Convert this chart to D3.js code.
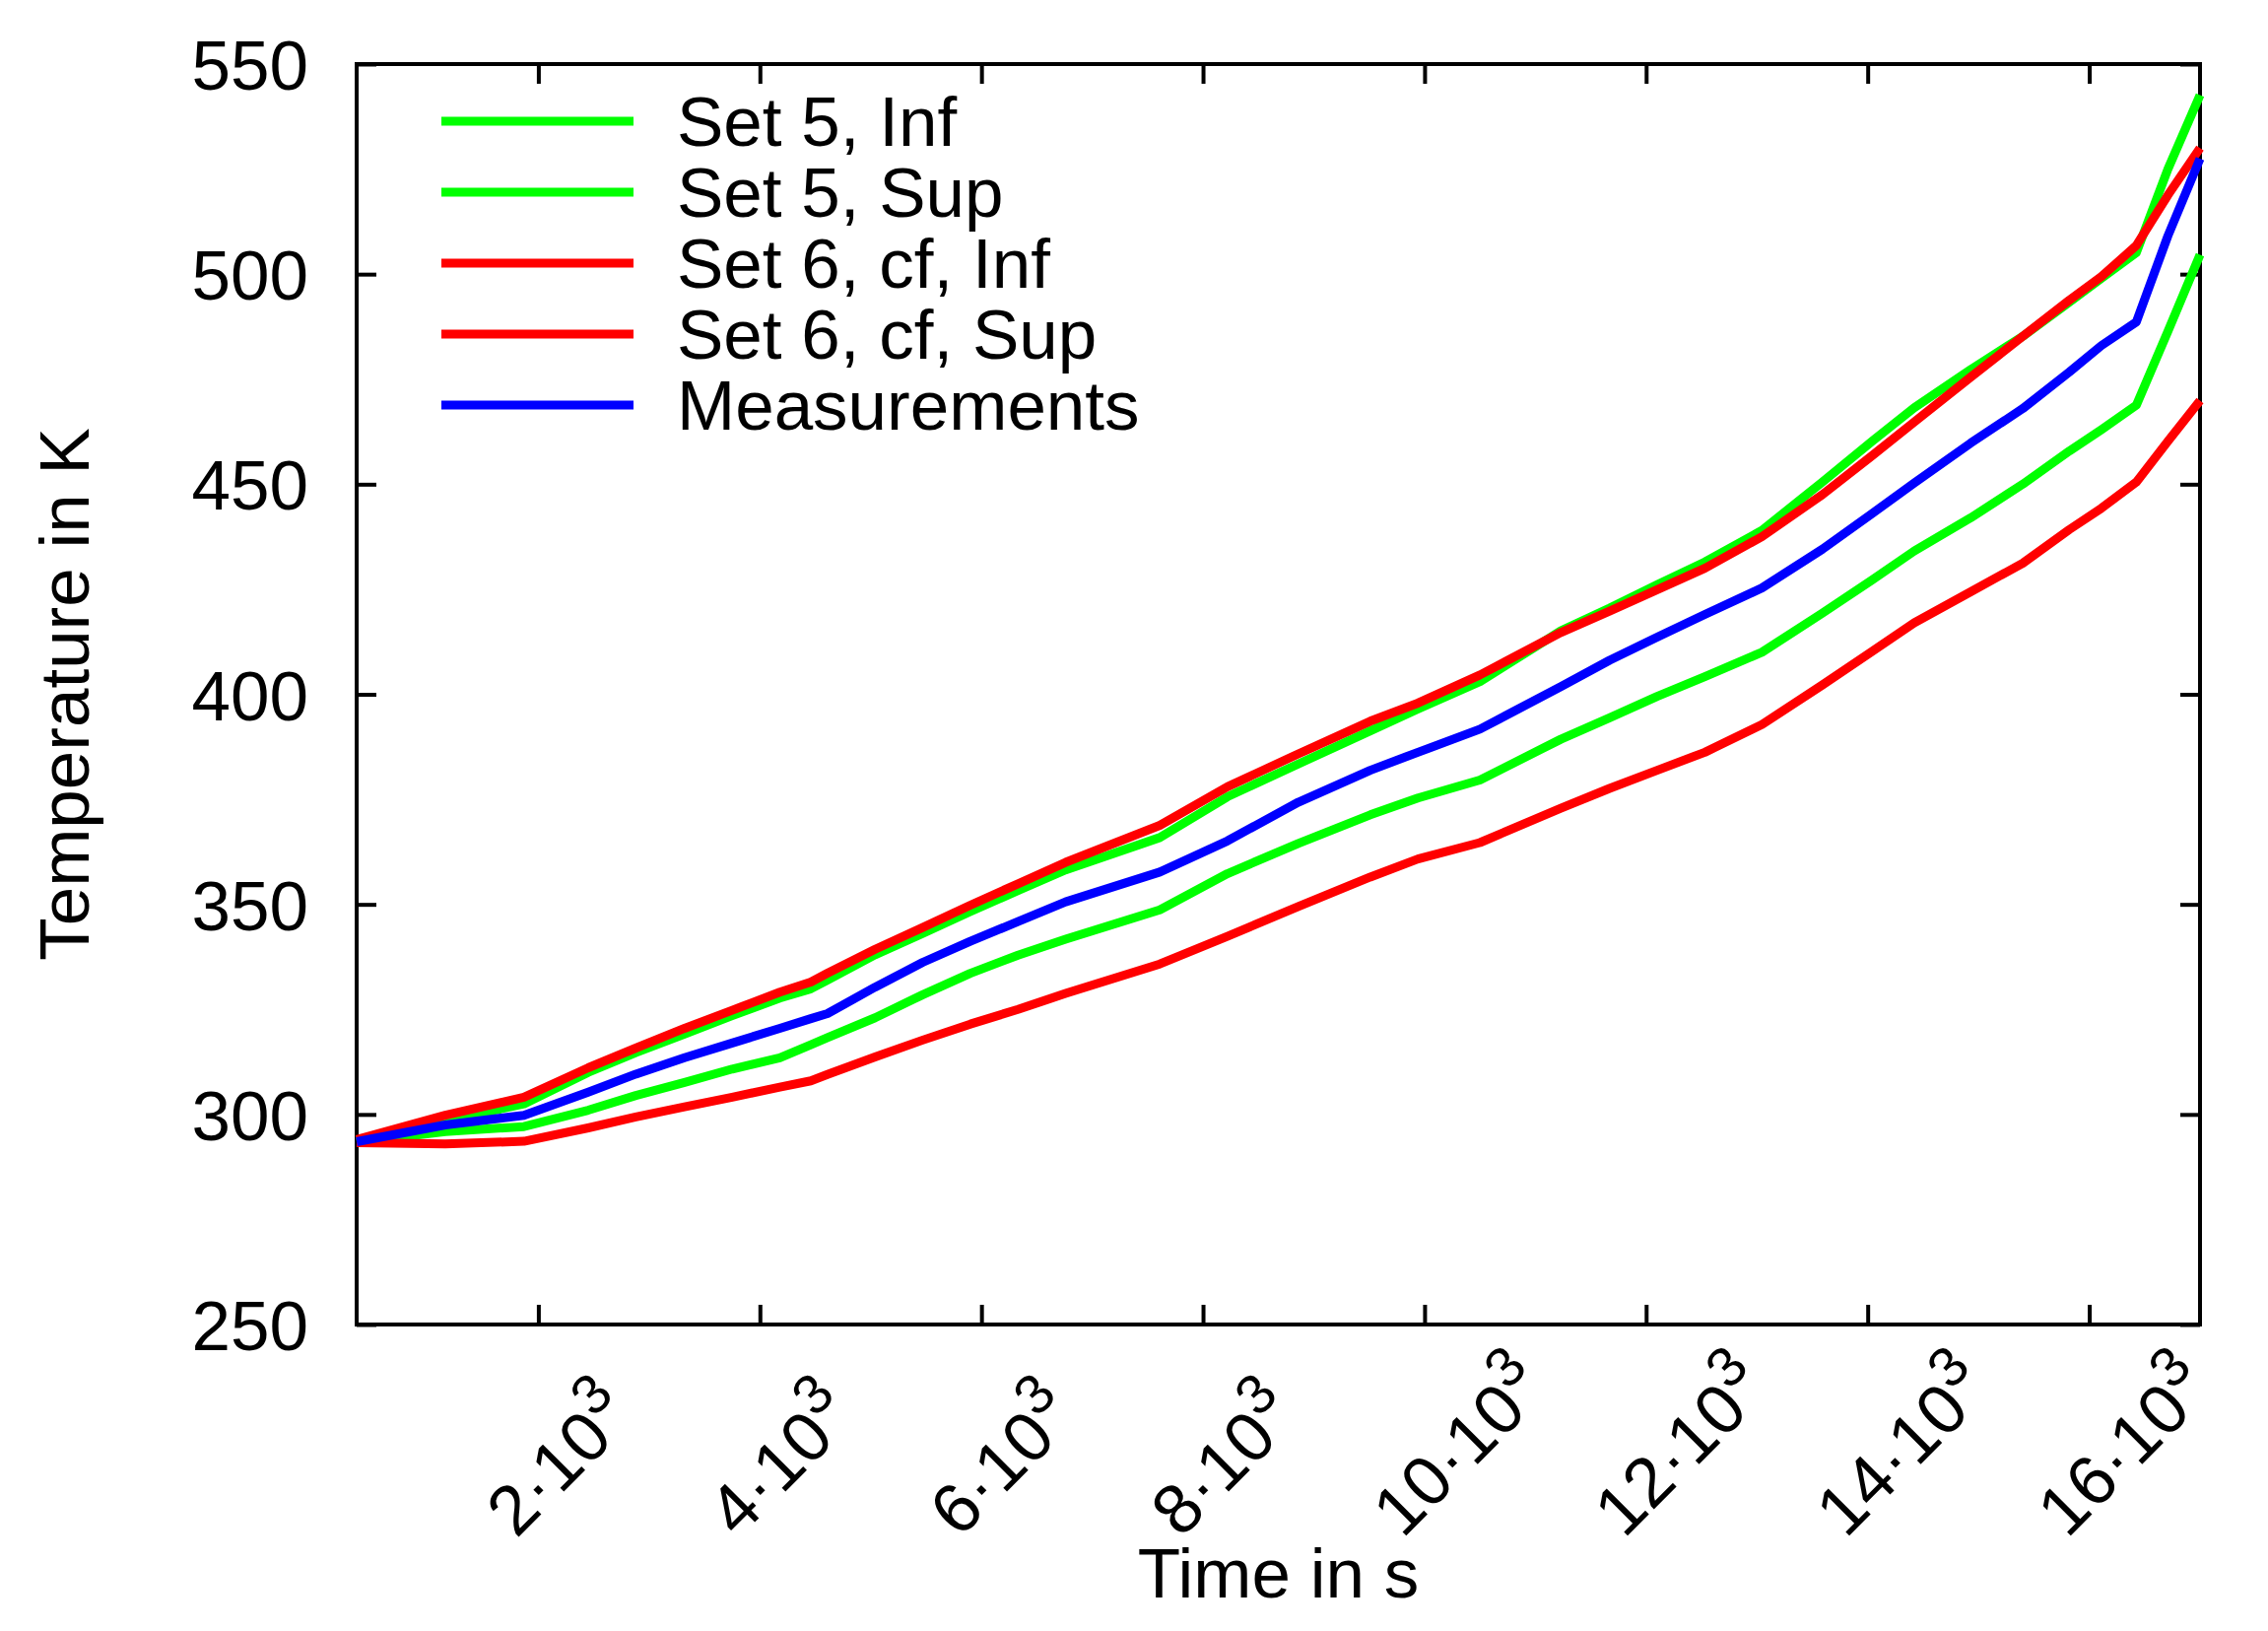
<!DOCTYPE html>
<html>
<head>
<meta charset="utf-8">
<script src="https://cdn.jsdelivr.net/npm/d3@7"></script>
<style>
  html, body { margin: 0; padding: 0; background: #ffffff; }
  svg { display: block; }
  text { font-family: "Liberation Sans", Arial, Helvetica, sans-serif; fill: #000; }
</style>
</head>
<body>
<svg id="chart" width="2302" height="1655"></svg>
<script>
// ---------------- data ----------------
const times = [360, 1160, 1870, 2450, 2880, 3320, 3750, 4180, 4460, 4610, 5040, 5470, 5900, 6330, 6760,
  7610, 8220, 8860, 9510, 9940, 10500, 11230, 11670, 12100, 12530, 13045, 13590, 14040, 14420, 14930,
  15400, 15820, 16110, 16425, 16710, 17000];

const set5Inf = [293.8, 298.5, 302.5, 310.0, 314.7, 319.1, 323.5, 327.7, 329.9, 332.0, 338.0, 343.1, 348.3, 353.3, 358.2,
  365.9, 375.6, 383.4, 391.3, 396.5, 403.0, 415.1, 420.5, 426.1, 431.5, 439.0, 450.5, 460.2, 468.2, 477.3,
  485.2, 493.3, 499.0, 505.1, 525.0, 542.6];

const set5Sup = [293.4, 295.9, 297.1, 301.0, 304.5, 307.6, 310.8, 313.5, 316.6, 318.3, 323.0, 328.5, 333.6, 337.9, 341.7,
  348.7, 357.3, 364.5, 371.3, 375.3, 379.6, 389.3, 394.4, 399.5, 404.2, 410.0, 419.3, 427.2, 434.1, 442.0,
  450.0, 457.9, 463.0, 468.8, 486.4, 504.6];

const set6Inf = [294.0, 299.8, 304.1, 311.1, 315.8, 320.5, 324.8, 329.1, 331.5, 333.6, 339.3, 344.5, 349.8, 354.9, 360.0,
  368.8, 378.0, 385.8, 393.6, 397.9, 404.6, 414.7, 419.8, 424.9, 430.0, 437.5, 447.5, 456.8, 464.8, 475.5,
  485.2, 493.8, 499.4, 506.8, 518.8, 530.0];

const set6Sup = [293.3, 293.0, 293.6, 296.8, 299.4, 301.8, 304.1, 306.5, 308.0, 309.5, 313.7, 317.7, 321.5, 325.0, 328.8,
  335.8, 342.4, 349.5, 356.5, 360.8, 364.7, 372.9, 377.6, 381.9, 386.2, 392.8, 402.2, 410.2, 417.0, 424.4,
  431.2, 439.2, 444.3, 450.5, 460.2, 469.9];

const measurements = [293.5, 297.5, 299.8, 305.3, 309.6, 313.5, 317.0, 320.5, 322.8, 324.0, 330.3, 336.2, 341.2, 345.9, 350.6,
  357.7, 365.1, 374.3, 381.9, 386.2, 391.7, 401.8, 408.1, 413.6, 419.0, 425.3, 434.5, 443.0, 450.3, 459.8,
  468.0, 476.7, 483.0, 488.6, 509.1, 527.5];

const yTicks = [250, 300, 350, 400, 450, 500, 550];
const xTicks = [2000, 4000, 6000, 8000, 10000, 12000, 14000, 16000];
const xTickMantissa = ["2", "4", "6", "8", "10", "12", "14", "16"];
const xTickExponent = "3";

const seriesNames = ["Set 5, Inf", "Set 5, Sup", "Set 6, cf, Inf", "Set 6, cf, Sup", "Measurements"];
const seriesColors = ["#00ff00", "#00ff00", "#ff0000", "#ff0000", "#0000ff"];
const seriesValues = [set5Inf, set5Sup, set6Inf, set6Sup, measurements];

const xTitle = "Time in s";
const yTitle = "Temperature in K";

// ---------------- layout ----------------
const W = 2302, H = 1655;
const L = 362, R = 2233, T = 65, B = 1344;
const FS = 71;

const svg = d3.select("#chart");
const x = d3.scaleLinear().domain([times[0], times[times.length - 1]]).range([L, R]);
const y = d3.scaleLinear().domain([250, 550]).range([B, T]);

function styleAxis(g) {
  g.select(".domain").remove();
  g.selectAll(".tick line").attr("stroke", "#000").attr("stroke-width", 4);
}

// left axis
const gLeft = svg.append("g").attr("transform", `translate(${L},0)`)
  .call(d3.axisLeft(y).tickValues(yTicks).tickSize(-20).tickPadding(49).tickFormat(d3.format("d")));
styleAxis(gLeft);
gLeft.selectAll(".tick text").attr("font-size", FS).attr("dy", "0.36em")
  .attr("font-family", "'Liberation Sans', Arial, sans-serif").attr("fill", "#000");

// right axis
const gRight = svg.append("g").attr("transform", `translate(${R},0)`)
  .call(d3.axisRight(y).tickValues(yTicks).tickSize(-20).tickFormat(""));
styleAxis(gRight);

// top axis
const gTop = svg.append("g").attr("transform", `translate(0,${T})`)
  .call(d3.axisTop(x).tickValues(xTicks).tickSize(-20).tickFormat(""));
styleAxis(gTop);

// bottom axis
const gBottom = svg.append("g").attr("transform", `translate(0,${B})`)
  .call(d3.axisBottom(x).tickValues(xTicks).tickSize(-20).tickFormat(""));
styleAxis(gBottom);
gBottom.selectAll(".tick text").remove();
gBottom.selectAll(".tick").each(function (d, i) {
  const t = d3.select(this).append("text")
    .attr("transform", "translate(-23,218) rotate(-45)")
    .attr("text-anchor", "start")
    .attr("font-size", FS)
    .attr("font-family", "'Liberation Sans', Arial, sans-serif")
    .attr("fill", "#000");
  t.append("tspan").text(xTickMantissa[i] + "\u00B710");
  t.append("tspan").attr("font-size", FS * 0.8).attr("dy", -31).text(xTickExponent);
});

// frame
svg.append("rect")
  .attr("x", L).attr("y", T).attr("width", R - L).attr("height", B - T)
  .attr("fill", "none").attr("stroke", "#000").attr("stroke-width", 4);

// lines
const line = d3.line().x((d, i) => x(times[i])).y(d => y(d));
seriesValues.forEach((vals, k) => {
  svg.append("path")
    .datum(vals)
    .attr("d", line)
    .attr("fill", "none")
    .attr("stroke", seriesColors[k])
    .attr("stroke-width", 9)
    .attr("stroke-linejoin", "round");
});

// legend
const legend = svg.append("g");
seriesNames.forEach((name, k) => {
  const ly = 123 + k * 72;
  legend.append("line")
    .attr("x1", 448).attr("x2", 643).attr("y1", ly).attr("y2", ly)
    .attr("stroke", seriesColors[k]).attr("stroke-width", 9);
  legend.append("text")
    .attr("x", 687).attr("y", ly + 25)
    .attr("font-size", FS)
    .text(name);
});

// axis titles
svg.append("text")
  .attr("x", (L + R) / 2).attr("y", 1621)
  .attr("text-anchor", "middle")
  .attr("font-size", FS)
  .text(xTitle);

svg.append("text")
  .attr("transform", `translate(90,${(T + B) / 2}) rotate(-90)`)
  .attr("text-anchor", "middle")
  .attr("font-size", FS)
  .text(yTitle);
</script>
</body>
</html>
